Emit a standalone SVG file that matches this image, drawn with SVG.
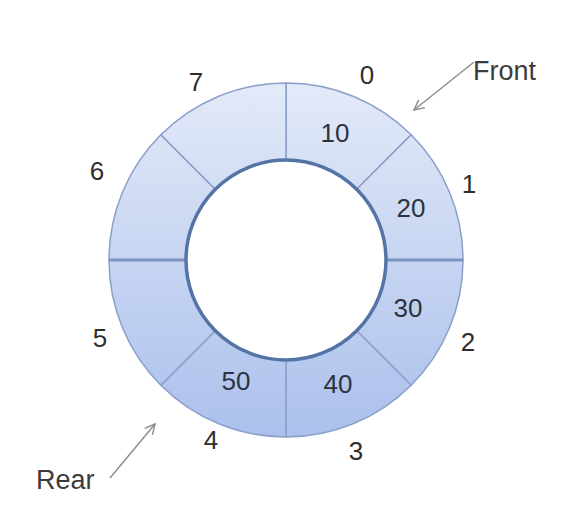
<svg xmlns="http://www.w3.org/2000/svg" width="564" height="512" viewBox="0 0 564 512">
<style>
.seg{fill:url(#ring);stroke:#8a9fca;stroke-width:1.5;stroke-linejoin:round}
.idx{font-family:"Liberation Sans",Arial,sans-serif;font-size:26px;fill:#2e2e2e;text-anchor:middle}
.val{font-family:"Liberation Sans",Arial,sans-serif;font-size:26px;fill:#2c333f;text-anchor:middle}
.lbl{font-family:"Liberation Sans",Arial,sans-serif;font-size:27px;fill:#3c3c3c}
.arr{stroke:#8c8c8c;stroke-width:1.4;fill:none;marker-end:url(#open)}
</style>
<defs>
<linearGradient id="ring" gradientUnits="userSpaceOnUse" x1="0" y1="83" x2="0" y2="437">
<stop offset="0" stop-color="#e3eaf8"/>
<stop offset="1" stop-color="#abc0ec"/>
</linearGradient>
<marker id="open" markerWidth="14" markerHeight="14" refX="11" refY="6" orient="auto" markerUnits="userSpaceOnUse">
<path d="M1,1 L11,6 L1,11" fill="none" stroke="#8c8c8c" stroke-width="1.4"/>
</marker>
</defs>
<rect width="564" height="512" fill="#fff"/>
<g id="slot0"><path class="seg" d="M286,83 A177,177 0 0 1 411.16,134.84 L356.71,189.29 A100,100 0 0 0 286,160 Z"/><text class="idx" x="367" y="84">0</text><text class="val" x="335" y="142">10</text></g>
<g id="slot1"><path class="seg" d="M411.16,134.84 A177,177 0 0 1 463,260 L386,260 A100,100 0 0 0 356.71,189.29 Z"/><text class="idx" x="469" y="193">1</text><text class="val" x="411" y="217">20</text></g>
<g id="slot2"><path class="seg" d="M463,260 A177,177 0 0 1 411.16,385.16 L356.71,330.71 A100,100 0 0 0 386,260 Z"/><text class="idx" x="468" y="351">2</text><text class="val" x="408" y="317">30</text></g>
<g id="slot3"><path class="seg" d="M411.16,385.16 A177,177 0 0 1 286,437 L286,360 A100,100 0 0 0 356.71,330.71 Z"/><text class="idx" x="356" y="460">3</text><text class="val" x="338" y="393">40</text></g>
<g id="slot4"><path class="seg" d="M286,437 A177,177 0 0 1 160.84,385.16 L215.29,330.71 A100,100 0 0 0 286,360 Z"/><text class="idx" x="211" y="449">4</text><text class="val" x="236" y="390">50</text></g>
<g id="slot5"><path class="seg" d="M160.84,385.16 A177,177 0 0 1 109,260 L186,260 A100,100 0 0 0 215.29,330.71 Z"/><text class="idx" x="100" y="347">5</text></g>
<g id="slot6"><path class="seg" d="M109,260 A177,177 0 0 1 160.84,134.84 L215.29,189.29 A100,100 0 0 0 186,260 Z"/><text class="idx" x="97" y="180">6</text></g>
<g id="slot7"><path class="seg" d="M160.84,134.84 A177,177 0 0 1 286,83 L286,160 A100,100 0 0 0 215.29,189.29 Z"/><text class="idx" x="196" y="91">7</text></g>
<g id="hub">
<line x1="109" y1="260" x2="186" y2="260" stroke="#7d93c0" stroke-width="3"/>
<line x1="386" y1="260" x2="463" y2="260" stroke="#7d93c0" stroke-width="3"/>
<circle cx="286" cy="260" r="100" fill="#fff" stroke="#5574a6" stroke-width="3.5"/>
</g>
<g id="front"><text class="lbl" x="473" y="80">Front</text></g>
<g id="rear"><text class="lbl" x="36" y="489">Rear</text></g>
<g id="connectors">
<line class="arr" x1="474" y1="62" x2="414" y2="110"/>
<line class="arr" x1="110" y1="478" x2="155" y2="424"/>
</g>
</svg>
